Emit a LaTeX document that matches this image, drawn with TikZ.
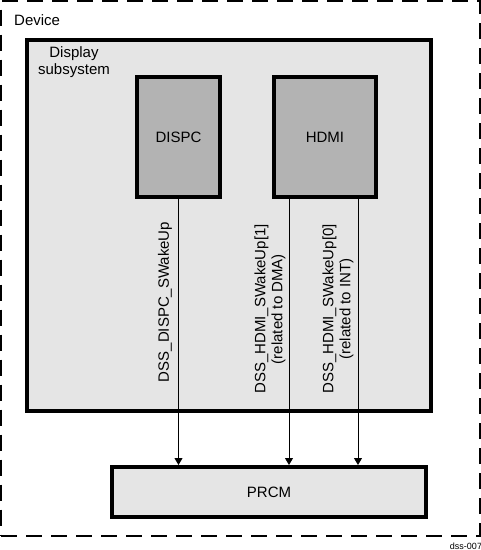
\documentclass[tikz,border=0pt]{standalone}
\usepackage{fontspec}
\setmainfont{Liberation Sans}
\usetikzlibrary{arrows.meta,positioning}
\definecolor{dLight}{RGB}{229,229,229}
\definecolor{dMid}{RGB}{179,179,179}

\begin{document}
\begin{tikzpicture}[
			x=1pt,y=-1pt,
			>={Triangle[width=8pt,length=7pt]},
			font=\fontsize{15}{17}\selectfont,
			outer/.style={
				draw,
				line width=2pt,
				dash pattern=on 16pt off 9pt,
				minimum width=478.5pt,
				minimum height=534.5pt,
				inner sep=0pt
			},
			sub/.style={
				draw,
				fill=dLight,
				line width=4pt,
				inner sep=0pt
			},
			blk/.style={
				draw,
				fill=dMid,
				line width=4pt,
				minimum width=#1,
				minimum height=120pt,
				inner sep=0pt
			},
			sig/.style={
				rotate=90,
				align=center,
				inner sep=0pt
			}
			]
			\useasboundingbox (0,0) rectangle (481,550);
			\node[outer](dev) at (240.25,268.25){};
			\node[anchor=west,inner sep=0pt] (devlbl) at (14,20){Device};
			\node[sub,minimum width=404pt,minimum height=371pt](dss) at (229,225.5){};
			\node[align=center,inner sep=0pt] (dsslbl) at (74,62){Display\\subsystem};
			\node[blk=83pt](dispc) at (178.5,137){DISPC};
			\node[blk=102pt](hdmi) at (325,137){HDMI};
			\node[sub,minimum width=314pt,minimum height=50pt](prcm) at (269,492){PRCM};
			% wake-up lines
			\coordinate (hdmione) at ([xshift=-36pt]hdmi.south);
			\coordinate (hdmizero) at ([xshift=33pt]hdmi.south);
			\draw[->,line width=1pt](dispc.south)--(dispc.south |- prcm.north);
			\draw[->,line width=1pt](hdmione)--(hdmione |- prcm.north);
			\draw[->,line width=1pt](hdmizero)--(hdmizero |- prcm.north);
			\node[sig](dispcsig) at (165,302){DSS\_DISPC\_SWakeUp};
			\node[sig](hdmionesig) at (270,309){DSS\_HDMI\_SWakeUp[1]\\(related to DMA)};
			\node[sig](hdmizerosig) at (338,309){DSS\_HDMI\_SWakeUp[0]\\(related to INT)};
			\node[font=\fontsize{9}{10}\selectfont,inner sep=0pt](fig) at (466,546){dss-007};
		\end{tikzpicture}
\end{document}
